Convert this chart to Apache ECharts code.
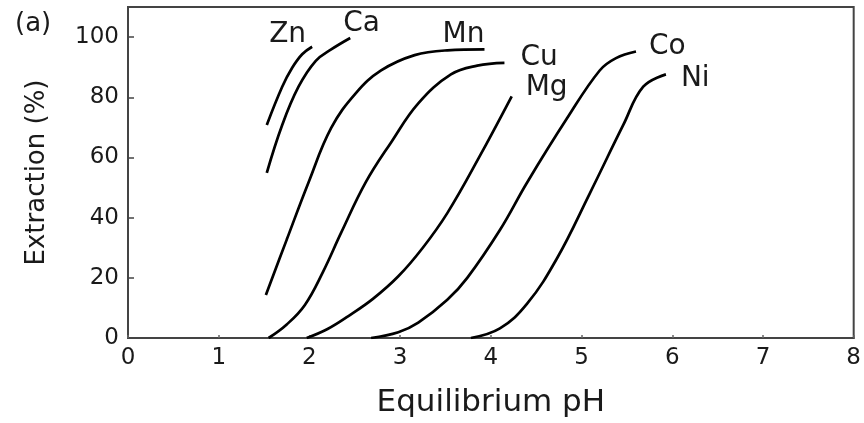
<!DOCTYPE html>
<html>
<head>
<meta charset="utf-8">
<script src="https://cdn.jsdelivr.net/npm/echarts@6/dist/echarts.min.js"></script>
<style>
  html, body { margin: 0; padding: 0; background: #fff; }
  #chart { width: 864px; height: 423px; }
</style>
</head>
<body>
<div id="chart"></div>
<script>
// pH / extraction (%) pairs
const zn = [[1.53, 70.8], [1.70, 83.5], [1.81, 89.8], [1.92, 94.3], [2.03, 96.8]]
const ca = [[1.53, 54.9], [1.70, 70.8], [1.88, 83.5], [2.07, 92.1], [2.24, 95.9], [2.45, 99.7]]
const mn = [[1.52, 14.3], [1.75, 32.7], [1.99, 51.7], [2.24, 69.8], [2.51, 81.3], [2.79, 88.9], [3.16, 94.0], [3.52, 95.6], [3.93, 95.9]]
const cu = [[1.55, 0], [1.75, 4.5], [1.95, 11], [2.15, 22], [2.35, 35], [2.62, 51.7], [2.90, 65], [3.20, 78], [3.56, 87.6], [3.85, 90.5], [4.15, 91.4]]
const mg = [[1.97, 0], [2.20, 3], [2.43, 7.3], [2.70, 13], [2.98, 20.5], [3.25, 30], [3.52, 41.5], [3.87, 60], [4.23, 80.3]]
const co = [[2.68, 0], [2.98, 1.9], [3.20, 5.1], [3.52, 12.7], [3.74, 20.0], [4.10, 35.9], [4.40, 51.7], [4.84, 73.0], [5.20, 88.9], [5.38, 93.0], [5.60, 95.2]]
const ni = [[3.78, 0], [4.10, 3.2], [4.40, 11.4], [4.73, 26.5], [5.09, 48], [5.46, 70.8], [5.68, 83.5], [5.93, 87.6]]

const names = ['Zn', 'Ca', 'Mn', 'Cu', 'Mg', 'Co', 'Ni']
const curves = [zn, ca, mn, cu, mg, co, ni]
// where each name sits relative to the end of its curve
const labelOffsets = [[-51, -12], [-15, -14], [-50, -15], [8, -5], [6, -9], [5, -5], [7, 4]]

const font = 'DejaVu Sans'
const ink = '#1a1a1a'

let myChart = echarts.init(document.getElementById('chart'))

let series = curves.map((d, i) => {
  return {
    name: names[i],
    type: 'line',
    data: d,
    smooth: 0.4,
    showSymbol: false,
    symbol: 'none',
    lineStyle: { color: '#000', width: 2.7 },
    endLabel: {
      show: true,
      formatter: names[i],
      offset: labelOffsets[i],
      color: ink,
      fontFamily: font,
      fontSize: 28,
    },
    z: 3,
  }
})

myChart.setOption({
  animation: false,
  title: {
    text: '(a)',
    left: 10,
    top: 6,
    textStyle: { fontFamily: font, fontSize: 26, fontWeight: 'normal', color: ink },
  },
  grid: {
    left: 128,
    right: 5,
    top: 7,
    bottom: 70,
    show: true,
    borderColor: '#444',
    borderWidth: 2,
  },
  xAxis: {
    type: 'value',
    min: 0,
    max: 8,
    interval: 1,
    name: 'Equilibrium pH',
    nameLocation: 'middle',
    nameGap: 49,
    nameTextStyle: { fontFamily: font, fontSize: 31, color: ink },
    splitLine: { show: false },
    axisLine: { lineStyle: { color: '#444', width: 2 } },
    axisTick: { inside: true, length: 3, lineStyle: { color: '#666', width: 1.5 } },
    axisLabel: { fontFamily: font, fontSize: 23, color: ink, margin: 9 },
  },
  yAxis: {
    type: 'value',
    min: 0,
    max: 110,
    interval: 20,
    name: 'Extraction (%)',
    nameLocation: 'middle',
    nameGap: 78,
    nameTextStyle: { fontFamily: font, fontSize: 26, color: ink },
    splitLine: { show: false },
    axisLine: { lineStyle: { color: '#444', width: 2 } },
    axisTick: { inside: true, length: 6, lineStyle: { color: '#444', width: 1.5 } },
    axisLabel: { fontFamily: font, fontSize: 23, color: ink, margin: 9, showMaxLabel: false },
  },
  series: series,
})
</script>
</body>
</html>
